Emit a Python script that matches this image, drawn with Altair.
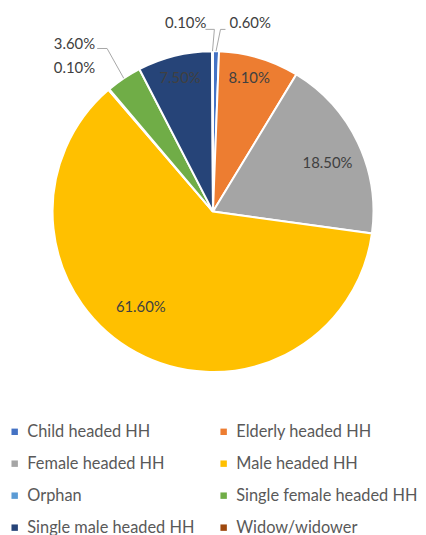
import math
import altair as alt
import pandas as pd

# ---- data ----
categories = ["Child headed HH", "Elderly headed HH", "Female headed HH", "Male headed HH",
              "Orphan", "Single female headed HH", "Single male headed HH", "Widow/widower"]
shares = [0.6, 8.1, 18.5, 61.6, 0.1, 3.6, 7.5, 0.1]
labels = ["0.60%", "8.10%", "18.50%", "61.60%", "0.10%", "3.60%", "7.50%", "0.10%"]
colors = ["#4472C4", "#ED7D31", "#A5A5A5", "#FFC000", "#5B9BD5", "#70AD47", "#264478", "#9E480E"]

# ---- layout / style ----
W, H = 414, 527          # whole drawing (padding 0, autosize none)
R = 162
cx, cy = 207, 203        # pie centre
FONT = "Lato"
# label placement: (radius, dx, dy)
label_place = {
    "Child headed HH": (190, 34, 0),
    "Elderly headed HH": (141, -4, 0),
    "Female headed HH": (128, 0, 6),
    "Male headed HH": (121, -15, -10),
    "Orphan": (191, -16, 0),
    "Single female headed HH": (203, -27, 0),
    "Single male headed HH": (139, 0, 0),
    "Widow/widower": (190, -27, 0),
}
# leader lines: elbow and end points (relative to label position)
leader_cats = {
    "Widow/widower": ((29, 6), (20, 6)),
    "Child headed HH": ((-30, 6), (-25, 6)),
    "Single female headed HH": ((33, 4), (23, 4)),
}

# legend fills column-wise, so order the legend domain to read row-wise
legend_order = [categories[i] for i in (0, 2, 4, 6, 1, 3, 5, 7)]
legend_colors = [colors[categories.index(c)] for c in legend_order]

total = sum(shares)
rows, lead = [], []
cum = 0.0
for i, (c, v, lab) in enumerate(zip(categories, shares, labels)):
    mid = (cum + v / 2) / total * 2 * math.pi
    cum += v
    r, dx, dy = label_place[c]
    lx = cx + r * math.sin(mid) + dx
    ly = cy - r * math.cos(mid) + dy
    rows.append({"cat": c, "share": v, "label": lab, "idx": i, "lx": lx, "ly": ly})
    if c in leader_cats:
        (ex, ey), (nx, ny) = leader_cats[c]
        px, py = cx + R * math.sin(mid), cy - R * math.cos(mid)
        lead.append({"x": px, "y": py, "x2": lx + ex, "y2": ly + ey})
        lead.append({"x": lx + ex, "y": ly + ey, "x2": lx + nx, "y2": ly + ny})

df = pd.DataFrame(rows)
ldf = pd.DataFrame(lead)

base = alt.Chart(df)
pie = base.mark_arc(outerRadius=R, stroke="white", strokeWidth=2).encode(
    x=alt.value(cx),
    y=alt.value(cy),
    theta=alt.Theta("share:Q", stack=True),
    order=alt.Order("idx:Q"),
    color=alt.Color(
        "cat:N",
        scale=alt.Scale(domain=legend_order, range=legend_colors),
        legend=alt.Legend(
            title=None, orient="none", legendX=-1.5, legendY=417, columns=2, padding=0,
            symbolType="square", symbolSize=42, symbolStrokeWidth=0,
            labelFont=FONT, labelFontSize=16.5, labelColor="#595959",
            labelOffset=4.5, rowPadding=15.3, columnPadding=21, labelLimit=300,
        ),
    ),
)

text = base.mark_text(font=FONT, fontSize=15, color="#404040").encode(
    x=alt.X("lx:Q", scale=None),
    y=alt.Y("ly:Q", scale=None),
    text="label:N",
)

leaders = alt.Chart(ldf).mark_rule(color="#A6A6A6", strokeWidth=1).encode(
    x=alt.X("x:Q", scale=None), y=alt.Y("y:Q", scale=None),
    x2="x2:Q", y2="y2:Q",
)

chart = alt.layer(pie, leaders, text).properties(
    width=W, height=H, padding=0,
    autosize=alt.AutoSizeParams(type="none"),
).configure_view(stroke=None)
chart.save("out.html", embed_options={"renderer": "svg", "actions": False})
